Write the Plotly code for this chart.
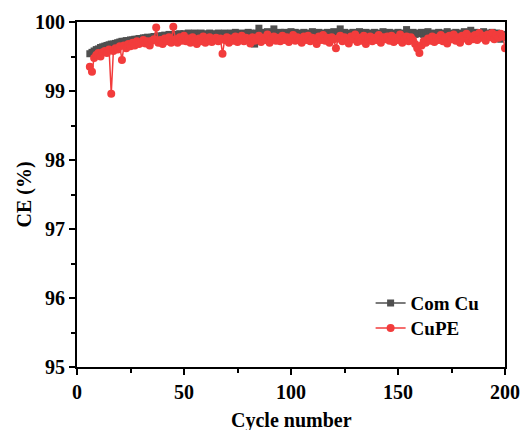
import plotly.graph_objects as go

cycles = list(range(6, 201))

com_cu = [
    99.54, 99.56, 99.58, 99.60, 99.61, 99.63, 99.64, 99.65, 99.66, 99.67,
    99.68, 99.68, 99.69, 99.70, 99.71, 99.72, 99.72, 99.73, 99.73, 99.74,
    99.74, 99.75, 99.75, 99.76, 99.76, 99.77, 99.77, 99.78, 99.77, 99.78,
    99.79, 99.78, 99.80, 99.79, 99.80, 99.81, 99.80, 99.82, 99.81, 99.80,
    99.82, 99.81, 99.83, 99.81, 99.83, 99.82, 99.84, 99.82, 99.83, 99.84,
    99.82, 99.83, 99.84, 99.82, 99.81, 99.83, 99.84, 99.82, 99.83, 99.82,
    99.84, 99.83, 99.82, 99.84, 99.83, 99.82, 99.84, 99.83, 99.85, 99.82,
    99.83, 99.84, 99.82, 99.83, 99.85, 99.84, 99.83, 99.68, 99.84, 99.91,
    99.85, 99.83, 99.84, 99.86, 99.84, 99.83, 99.90, 99.84, 99.82, 99.85,
    99.83, 99.85, 99.82, 99.84, 99.86, 99.83, 99.85, 99.82, 99.84, 99.83,
    99.85, 99.82, 99.84, 99.83, 99.86, 99.84, 99.82, 99.85, 99.83, 99.84,
    99.82, 99.85, 99.83, 99.84, 99.86, 99.82, 99.84, 99.90, 99.83, 99.85,
    99.82, 99.84, 99.83, 99.85, 99.82, 99.84, 99.86, 99.83, 99.82, 99.85,
    99.83, 99.84, 99.82, 99.85, 99.83, 99.84, 99.82, 99.86, 99.83, 99.84,
    99.85, 99.82, 99.84, 99.83, 99.85, 99.82, 99.84, 99.83, 99.89, 99.84,
    99.83, 99.85, 99.82, 99.84, 99.83, 99.85, 99.82, 99.84, 99.86, 99.83,
    99.82, 99.84, 99.83, 99.85, 99.82, 99.84, 99.83, 99.86, 99.82, 99.84,
    99.83, 99.85, 99.82, 99.84, 99.83, 99.86, 99.82, 99.84, 99.88, 99.83,
    99.85, 99.82, 99.84, 99.83, 99.86, 99.82, 99.84, 99.83, 99.85, 99.82,
    99.84, 99.83, 99.75, 99.82, 99.78,
]

cupe = [
    99.35, 99.28, 99.48, 99.52, 99.55, 99.50, 99.56, 99.58, 99.55, 99.60,
    98.96, 99.58, 99.62, 99.60, 99.65, 99.45, 99.66, 99.62, 99.68, 99.65,
    99.70, 99.66, 99.72, 99.68, 99.70, 99.74, 99.69, 99.72, 99.66, 99.73,
    99.75, 99.92, 99.70, 99.74, 99.68, 99.76, 99.72, 99.78, 99.70, 99.93,
    99.75, 99.70, 99.78, 99.73, 99.80, 99.72, 99.76, 99.70, 99.78, 99.74,
    99.68, 99.76, 99.72, 99.79, 99.70, 99.75, 99.78, 99.71, 99.74, 99.77,
    99.72, 99.76, 99.54, 99.74, 99.78, 99.70, 99.76, 99.73, 99.79, 99.71,
    99.75, 99.80, 99.72, 99.77, 99.74, 99.69, 99.78, 99.73, 99.76, 99.80,
    99.71, 99.77, 99.74, 99.82, 99.70, 99.76, 99.79, 99.73, 99.77, 99.72,
    99.80, 99.74, 99.78, 99.71, 99.76, 99.81, 99.73, 99.78, 99.75, 99.70,
    99.79, 99.74, 99.80, 99.72, 99.77, 99.75, 99.68, 99.79, 99.74, 99.81,
    99.73, 99.77, 99.70, 99.78, 99.75, 99.62, 99.76, 99.80, 99.72, 99.78,
    99.74, 99.69, 99.79, 99.75, 99.82, 99.71, 99.77, 99.73, 99.80, 99.68,
    99.76, 99.79, 99.72, 99.77, 99.74, 99.81, 99.70, 99.78, 99.75, 99.79,
    99.73, 99.80, 99.71, 99.77, 99.74, 99.82, 99.70, 99.76, 99.79, 99.72,
    99.78, 99.74, 99.68, 99.62, 99.55, 99.66, 99.72, 99.70, 99.76, 99.73,
    99.79, 99.71, 99.77, 99.74, 99.81, 99.72, 99.78, 99.69, 99.80, 99.75,
    99.82, 99.73, 99.78, 99.70, 99.80, 99.76, 99.83, 99.72, 99.79, 99.75,
    99.81, 99.74, 99.84, 99.77, 99.80, 99.73, 99.82, 99.78, 99.84, 99.75,
    99.81, 99.77, 99.83, 99.79, 99.62,
]

x_ticks = [0, 50, 100, 150, 200]
y_ticks = [95, 96, 97, 98, 99, 100]

FONT = "Liberation Serif, Times New Roman, serif"
GRAY = "#4f4f4f"
RED = "#f23c3c"

fig = go.Figure()
fig.add_trace(go.Scatter(
    x=cycles, y=com_cu, mode="lines+markers", name="Com Cu", legend="legend",
    line=dict(color=GRAY, width=1.5),
    marker=dict(symbol="square", size=7, color=GRAY),
))
fig.add_trace(go.Scatter(
    x=cycles, y=cupe, mode="lines+markers", name="CuPE", legend="legend2",
    line=dict(color=RED, width=1.5),
    marker=dict(symbol="circle", size=8, color=RED),
))

axis_common = dict(
    showline=True, linewidth=2, linecolor="black", mirror=True,
    ticks="outside", ticklen=6, tickwidth=2, tickcolor="black",
    showgrid=False, zeroline=False, automargin=False,
    tickfont=dict(family=FONT, size=20, color="black", weight="bold"),
)

fig.update_xaxes(
    range=[0, 200], tickvals=x_ticks, ticktext=[str(v) for v in x_ticks],
    minor=dict(ticks="outside", ticklen=4, tickwidth=2, tickcolor="black", dtick=25),
    **axis_common,
)
fig.update_yaxes(
    range=[95, 100], tickvals=y_ticks, ticktext=[str(v) for v in y_ticks],
    minor=dict(ticks="outside", ticklen=4, tickwidth=2, tickcolor="black", dtick=0.5),
    **axis_common,
)

title_font = dict(family=FONT, size=20, color="black", weight="bold")
fig.add_annotation(text="Cycle number", xref="paper", yref="paper",
                   x=0.5, y=-0.154, xanchor="center", yanchor="middle",
                   showarrow=False, font=title_font)
fig.add_annotation(text="CE (%)", xref="paper", yref="paper",
                   x=-0.1215, y=0.5, xanchor="center", yanchor="middle",
                   textangle=-90, showarrow=False, font=title_font)

legend_style = dict(
    xanchor="left", yanchor="top", bgcolor="rgba(0,0,0,0)",
    font=dict(family=FONT, size=19, color="black", weight="bold"),
    itemwidth=30,
)

fig.update_layout(
    width=522, height=430,
    margin=dict(l=77, r=17, t=22, b=63),
    paper_bgcolor="white", plot_bgcolor="white",
    showlegend=True,
    legend=dict(x=0.686, y=0.240, **legend_style),
    legend2=dict(x=0.686, y=0.168, **legend_style),
)

# remove the browser's default 8px page margin so the figure fills the window
fig.write_html("out.html", config={"displayModeBar": False},
               post_script="document.body.style.margin='0';")
